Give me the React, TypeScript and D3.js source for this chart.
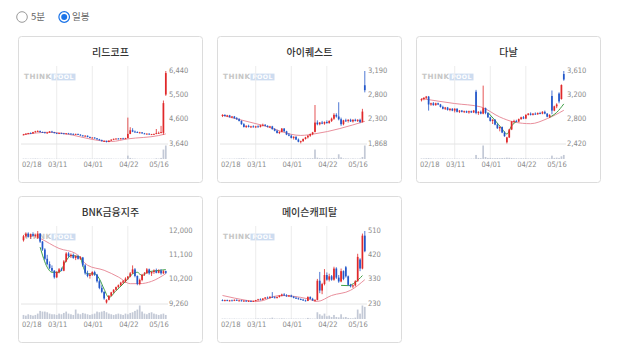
import React from "react";
import * as d3 from "d3";

const DATES = [
  "02/18","02/19","02/20","02/21","02/22","02/25","02/26","02/27","02/28",
  "03/04","03/05","03/06","03/07","03/08","03/11","03/12","03/13","03/14","03/15",
  "03/18","03/19","03/20","03/21","03/22","03/25","03/26","03/27","03/28","03/29",
  "04/01","04/02","04/03","04/04","04/05","04/08","04/09","04/10","04/11","04/12",
  "04/15","04/16","04/17","04/18","04/19","04/22","04/23","04/24","04/25","04/26",
  "04/29","04/30","05/02","05/03","05/07","05/08","05/09","05/10","05/13","05/14",
  "05/15","05/16",
];
const TICKS = ["02/18", "03/11", "04/01", "04/22", "05/16"];

type OHLC = [number, number, number, number];
type Pt = [number, number];

// ---------- 리드코프 ----------
const LEAD_LABELS = ["6,440", "5,500", "4,600", "3,640"];
const LEAD_OHLC: OHLC[] = [
  [3980,4010,3960,3990],[3990,4030,3980,4020],[4020,4050,4000,4040],[4040,4070,4020,4030],[4030,4090,4020,4080],
  [4080,4130,4060,4110],[4110,4150,4090,4120],[4120,4140,4070,4080],[4080,4100,4050,4070],[4070,4090,4040,4050],
  [4050,4080,4030,4060],[4060,4120,4050,4100],[4100,4130,4070,4080],[4080,4090,4030,4040],[4040,4060,4020,4030],
  [4030,4050,4010,4040],[4040,4060,4020,4030],[4030,4050,4010,4020],[4020,4040,4000,4030],[4030,4050,4010,4020],
  [4020,4040,4000,4010],[4010,4030,3990,4000],[4000,4020,3980,4010],[4010,4020,3970,3980],[3980,4000,3940,3950],
  [3950,3970,3920,3930],[3930,3960,3910,3940],[3940,3950,3880,3890],[3890,3910,3850,3860],[3860,3880,3840,3870],
  [3870,3880,3830,3840],[3840,3850,3790,3800],[3800,3820,3760,3770],[3770,3790,3720,3730],[3730,3760,3700,3740],
  [3740,3750,3680,3700],[3700,3760,3690,3750],[3750,3800,3740,3790],[3790,3830,3770,3820],[3820,3840,3800,3830],
  [3830,3850,3810,3820],[3820,3850,3800,3840],[3840,3860,3820,3830],[3830,3860,3810,3850],[3850,4640,3840,4010],
  [4010,4270,4000,4150],[4150,4230,4080,4100],[4100,4140,4060,4080],[4080,4110,4050,4060],[4060,4090,4030,4070],
  [4070,4080,4020,4030],[4030,4050,4000,4010],[4010,4030,3990,4020],[4020,4030,3980,3990],[3990,4010,3970,4000],
  [4000,4020,3980,4010],[4010,4200,4000,4040],[4040,4100,4020,4050],[4050,4320,4030,4080],[4050,5300,3980,5200],
  [5530,6440,5480,6360],
];
const LEAD_VOL = [3,3,2,3,3,4,3,2,2,3, 3,3,2,2,2,2,2,2,2,2, 2,2,2,2,3,3,2,3,3,2, 3,3,3,4,3,3,3,3,2,2, 2,2,2,2,25,8,4,3,2,2, 2,2,2,2,2,2,5,3,8,70,100];
const LEAD_MA_LONG: Pt[] = [[0,3985],[11,4075],[37,3717],[44,3819],[57,3947],[60,4011]];
const LEAD_MA_SHORT: Pt[][] = [];

// ---------- 아이퀘스트 ----------
const IQ_LABELS = ["3,190", "2,800", "2,300", "1,868"];
const IQ_OHLC: OHLC[] = [
  [2370,2400,2350,2390],[2390,2400,2360,2370],[2370,2390,2350,2380],[2380,2390,2340,2350],[2350,2370,2330,2360],
  [2360,2370,2320,2330],[2330,2350,2300,2310],[2310,2330,2270,2280],[2280,2290,2210,2220],[2220,2240,2160,2170],
  [2170,2200,2150,2190],[2190,2210,2160,2170],[2170,2190,2150,2180],[2180,2200,2160,2170],[2170,2190,2150,2180],
  [2180,2200,2160,2170],[2170,2210,2160,2200],[2200,2230,2180,2210],[2210,2220,2180,2190],[2190,2200,2160,2170],
  [2170,2190,2150,2180],[2180,2190,2120,2130],[2130,2150,2090,2100],[2100,2120,2050,2060],[2060,2090,2040,2080],
  [2080,2150,2070,2140],[2140,2150,2080,2090],[2090,2100,2020,2030],[2030,2060,2000,2010],[2010,2030,1960,1970],
  [1970,2000,1940,1990],[1990,2000,1930,1940],[1940,1960,1890,1900],[1900,1920,1870,1910],[1910,1960,1900,1950],
  [1950,1990,1940,1980],[1980,2020,1960,2010],[2010,2050,1990,2040],[2040,2080,2020,2070],[2080,2570,2070,2250],
  [2250,2290,2200,2220],[2220,2260,2200,2250],[2250,2280,2220,2230],[2230,2270,2210,2260],[2260,2290,2230,2240],
  [2240,2290,2230,2280],[2280,2340,2260,2320],[2320,2420,2300,2390],[2390,2420,2340,2360],[2360,2620,2290,2310],
  [2310,2340,2190,2220],[2220,2300,2200,2290],[2290,2320,2260,2280],[2280,2310,2250,2300],[2300,2320,2260,2270],
  [2270,2310,2250,2300],[2300,2320,2270,2280],[2280,2310,2260,2300],[2300,2320,2240,2260],[2260,2500,2250,2450],
  [2930,3190,2800,2840],
];
const IQ_VOL = [3,2,2,3,2,3,3,4,5,5, 3,3,2,2,2,2,3,3,2,2, 3,3,4,4,3,4,3,4,4,5, 4,4,5,4,4,4,5,5,6,70, 10,6,5,4,5,5,6,8,5,35, 12,5,4,4,3,4,3,3,4,15,100];
const IQ_MA_LONG: Pt[] = [[0,2382],[17,2198],[33,2015],[39,2045],[60,2272]];
const IQ_MA_SHORT: Pt[][] = [];

// ---------- 다날 ----------
const DANAL_LABELS = ["3,610", "3,200", "2,800", "2,420"];
const DANAL_OHLC: OHLC[] = [
  [3130,3160,3110,3150],[3150,3180,3130,3170],[3170,3200,3150,3190],[3190,3200,2960,3060],[3060,3090,3040,3080],
  [3080,3100,3040,3050],[3050,3090,3040,3080],[3080,3090,3050,3060],[3060,3070,3010,3020],[3020,3040,2980,2990],
  [2990,3020,2970,3010],[3010,3020,2960,2970],[2970,3000,2950,2990],[2990,3000,2950,2960],[2960,3000,2930,2990],
  [2990,3000,2930,2940],[2940,2970,2920,2960],[2960,2970,2930,2940],[2940,2960,2920,2950],[2950,2960,2920,2930],
  [2930,2960,2910,2950],[2950,2960,2920,2930],[2930,2970,2920,2960],[3270,3300,2900,2920],[2920,2950,2890,2940],
  [2940,2960,2900,2910],[2910,3370,2900,3000],[3000,3010,2900,2920],[2920,2930,2840,2850],[2850,2860,2780,2790],
  [2790,2820,2740,2810],[2810,2820,2720,2730],[2730,2750,2660,2670],[2670,2700,2620,2690],[2690,2700,2590,2600],
  [2600,2620,2530,2540],[2440,2530,2420,2520],[2520,2660,2510,2650],[2650,2790,2640,2780],[2780,2810,2760,2790],
  [2790,2810,2770,2780],[2780,2830,2770,2820],[2820,2860,2810,2850],[2850,2870,2820,2830],[2830,2900,2820,2890],
  [2890,2920,2880,2910],[2910,2930,2880,2890],[2890,2920,2880,2910],[2910,2930,2890,2900],[2900,2930,2890,2920],
  [2920,2940,2900,2910],[2910,2950,2900,2940],[2940,2960,2900,2910],[2910,2920,2850,2860],[2860,2900,2840,2890],
  [3200,3290,2900,2960],[2960,3040,2950,3030],[3030,3080,3000,3060],[3240,3260,3080,3110],[3150,3390,3140,3380],
  [3560,3610,3450,3470],
];
const DANAL_VOL = [4,4,5,6,4,3,3,3,4,4, 3,3,3,3,3,3,3,2,2,2, 2,3,3,30,8,6,100,15,8,8, 6,6,7,6,7,8,10,9,7,5, 5,4,5,5,5,4,4,4,4,4, 4,4,4,5,5,25,8,10,8,20,30];
const DANAL_MA_LONG: Pt[] = [[0,3158],[14,3076],[25,3021],[33,2855],[39,2773],[46,2745],[53,2828],[60,2965]];
const DANAL_MA_SHORT: Pt[][] = [
  [[28,2930],[31,2800],[34,2660],[36,2575],[38,2710],[40,2780]],
  [[54,2850],[57,2930],[60,3070]],
];

// ---------- BNK금융지주 ----------
const BNK_LABELS = ["12,000", "11,100", "10,200", "9,260"];
const BNK_OHLC: OHLC[] = [
  [11650,11850,11600,11800],[11800,11950,11750,11900],[11900,11950,11750,11780],[11780,11900,11700,11880],[11880,11950,11800,11820],
  [11820,11900,11750,11850],[11750,12000,11700,11900],[11900,11920,11550,11600],[11600,11620,11250,11300],[11300,11350,10900,10950],
  [10950,11100,10700,10750],[10750,10850,10550,10600],[10600,10700,10450,10500],[10500,10520,10200,10250],[10250,10480,10220,10450],
  [10450,10600,10400,10550],[10550,10620,10480,10500],[10500,10900,10480,10850],[10850,11200,10820,11150],[11150,11200,11000,11050],
  [11050,11150,10980,11100],[11100,11150,10950,10980],[10980,11080,10900,11050],[11050,11100,10920,10950],[10950,11050,10900,11000],
  [11000,11020,10650,10700],[10700,10750,10350,10400],[10400,10500,10250,10300],[10300,10400,10200,10350],[10350,10480,10300,10450],
  [10450,10500,10300,10350],[10350,10380,10050,10100],[10100,10150,9800,9850],[9850,9950,9650,9700],[9700,9720,9400,9450],
  [9300,9420,9260,9400],[9400,9580,9380,9550],[9550,9700,9520,9680],[9680,9800,9650,9780],[9780,9900,9750,9880],
  [9880,9980,9850,9950],[9950,10080,9920,10050],[10050,10150,10000,10100],[10100,10250,10050,10200],[10200,10300,10150,10280],
  [10280,10450,10250,10400],[10400,10700,10380,10550],[10550,10600,10250,10300],[10300,10320,9950,10000],[10000,10200,9950,10150],
  [10150,10380,10100,10350],[10350,10450,10300,10400],[10400,10600,10380,10550],[10550,10580,10350,10400],[10400,10480,10300,10450],
  [10450,10550,10380,10500],[10500,10580,10400,10420],[10420,10550,10400,10500],[10500,10560,10350,10400],[10400,10520,10380,10480],
  [10480,10500,10380,10420],
];
const BNK_VOL = [30,25,35,30,25,30,40, 60,55,55,50,40,35, 35,30,40,35,45,55, 40,35,30,70,40,35, 45,40,35,30,35,40, 55,50,55,60,50,40, 35,30,35,40,35,30,40, 35,45,50,60,70,100,55, 40,35,45,50,40,35,30,35,40,30];
const BNK_MA_LONG: Pt[] = [[6,11760],[7,11721],[15,11341],[22,11150],[27,10706],[34,10516],[40,10262],[45,10009],[49,10009],[54,10097],[60,10389]];
const BNK_MA_SHORT: Pt[][] = [
  [[7,11390],[10,10630],[12,10440],[15,10440],[18,10880],[20,11070],[24,11010],[25,10690],[27,10380],[30,10380],
   [32,10190],[34,9800],[36,9490],[39,9740],[42,10000],[44,10190],[46,10380],[48,10440],[50,10310],[52,10440],[56,10500],[60,10540]],
];

// ---------- 메이슨캐피탈 ----------
const MASON_LABELS = ["510", "420", "330", "230"];
const MASON_OHLC: OHLC[] = [
  [243,246,239,241],[241,245,238,243],[243,245,239,240],[240,244,238,242],[242,245,240,241],
  [241,246,239,244],[244,246,240,241],[241,244,238,242],[242,244,238,239],[239,243,237,241],
  [241,243,237,238],[238,242,236,240],[240,242,237,238],[238,241,236,240],[240,244,238,243],
  [243,248,241,246],[246,250,243,244],[244,251,243,249],[249,255,247,253],[253,257,249,251],
  [251,258,249,256],[256,274,252,254],[254,258,250,252],[252,257,249,255],[255,262,253,260],
  [260,268,257,265],[265,270,259,261],[261,266,256,258],[258,263,255,261],[261,264,254,256],
  [256,259,250,252],[252,256,248,250],[250,253,245,247],[247,250,243,245],[245,248,240,242],
  [242,245,238,240],[240,258,239,255],[255,258,246,248],[248,252,240,242],[242,246,237,244],
  [244,325,242,318],[318,352,270,280],[280,310,266,305],[305,363,300,340],[340,350,318,322],
  [322,345,315,335],[335,340,318,322],[322,372,318,365],[365,370,325,330],[330,340,310,315],
  [315,365,312,355],[355,358,320,325],[370,375,330,335],[335,338,298,302],[302,306,292,296],
  [296,303,290,300],[300,320,296,316],[316,422,314,410],[400,405,355,365],[365,500,362,492],
  [492,510,428,432],
];
const MASON_VOL = [3,3,2,3,2,3,2,2,2,2, 2,2,2,2,3,4,3,4,5,4, 5,10,4,3,4,5,4,3,3,3, 3,3,3,3,3,3,8,4,3,3, 50,35,25,40,20,25,15,30,15,12, 35,12,15,8,6,5,10,70,40,100,90];
const MASON_MA_LONG: Pt[] = [[0,261],[5,251],[15,238],[24,261],[36,248],[40,238],[46,261],[54,281],[60,322]];
const MASON_MA_SHORT: Pt[][] = [[[50,300],[53,299],[56,312],[59,338]]];

const RED = "#e0282a";
const BLUE = "#2357c9";
const PINK = "#e98f9c";
const GREEN = "#3fa046";
const VOLC = "#c3c9d6";
const LABEL_FONT = "'Liberation Sans Narrow', 'DejaVu Sans Condensed', 'Arial Narrow', sans-serif";
const KR_FONT = "'Noto Sans CJK KR', 'Noto Sans', sans-serif";

interface PanelProps {
  left: number;
  top: number;
  title: string;
  ohlc: OHLC[];
  vol: number[];
  maLong: Pt[];
  maShort: Pt[][];
  labels: string[];
}

function Panel({ left, top, title, ohlc, vol, maLong, maShort, labels }: PanelProps) {
  const W = 184, H = 146;
  const x = d3.scalePoint<string>().domain(DATES).range([left + 5.5, left + 147.8]);
  const num = (s: string) => +s.replace(/,/g, "");
  const yTop = top + 35, yBot = top + 107.5;
  const y = d3.scaleLinear().domain([num(labels[labels.length - 1]), num(labels[0])]).range([yBot, yTop]);
  const vTop = top + 109.5, vBot = top + 123;
  const v = d3.scaleLinear().domain([0, d3.max(vol) as number]).range([vBot, vTop]);
  const line = d3.line<Pt>().x(p => x(DATES[p[0]]) as number).y(p => y(p[1])).curve(d3.curveMonotoneX);
  const bw = 1.7;
  return (
    <g>
      <rect x={left + 0.5} y={top + 0.5} width={W} height={H} rx={3} fill="#fff" stroke="#dcdcdc" />
      <text x={left + W / 2 + 0.5} y={top + 17} textAnchor="middle" dominantBaseline="middle"
        fontFamily={KR_FONT} fontSize={10} fontWeight={500} fill="#333">{title}</text>
      {/* watermark */}
      <text x={left + 6} y={top + 41.3} dominantBaseline="middle" fontFamily="'DejaVu Sans', sans-serif"
        fontSize={7.2} fontWeight={700} letterSpacing={0.5} fill="#c6c6c6">THINK</text>
      <rect x={left + 33.5} y={top + 37.6} width={24} height={6.8} fill="#cddcf0" />
      <text x={left + 45.5} y={top + 41.3} textAnchor="middle" dominantBaseline="middle" fontFamily="'DejaVu Sans', sans-serif"
        fontSize={6.2} fontWeight={700} letterSpacing={0.4} fill="#fff">POOL</text>
      {/* grid */}
      {TICKS.slice(1, 4).map(t => (
        <line key={t} x1={(x(t) as number)} x2={(x(t) as number)} y1={top + 30} y2={vBot}
          stroke="#ececec" strokeWidth={1} />
      ))}
      <line x1={left + 3} x2={left + 150} y1={yBot + 0.5} y2={yBot + 0.5} stroke="#e4e4e4" />
      {/* volume */}
      {vol.map((d, i) => {
        const cx = x(DATES[i]) as number;
        return <rect key={"v" + i} x={cx - bw / 2} width={bw} y={v(d)} height={vBot - v(d)} fill={VOLC} />;
      })}
      {/* MA lines */}
      <path d={line(maLong) || ""} fill="none" stroke={PINK} strokeWidth={1} />
      {maShort.map((seg, k) => (
        <path key={"g" + k} d={line(seg) || ""} fill="none" stroke={GREEN} strokeWidth={1} />
      ))}
      {/* candles */}
      {ohlc.map((d, i) => {
        const cx = x(DATES[i]) as number;
        const up = d[3] >= d[0];
        const col = up ? RED : BLUE;
        const yo = y(d[0]), yc = y(d[3]);
        return (
          <g key={"c" + i}>
            <line x1={cx} x2={cx} y1={y(d[1])} y2={y(d[2])} stroke={col} strokeWidth={0.8} />
            <rect x={cx - bw / 2} width={bw} y={Math.min(yo, yc)} height={Math.max(0.9, Math.abs(yo - yc))} fill={col} />
          </g>
        );
      })}
      {/* y labels */}
      {labels.map((l, k) => (
        <text key={l} x={left + 151} y={yTop + (k * (yBot - yTop)) / 3} dominantBaseline="middle"
          fontFamily={LABEL_FONT} fontSize={7.5} fill="#8a8a8a">{l}</text>
      ))}
      {/* x labels */}
      {TICKS.map((t, k) => {
        const px = x(t) as number;
        const anchor = k === 0 ? "start" : k === TICKS.length - 1 ? "end" : "middle";
        const tx = k === 0 ? left + 4 : k === TICKS.length - 1 ? left + 150.7 : px + 1;
        return (
          <text key={t} x={tx} y={top + 129} textAnchor={anchor} dominantBaseline="middle"
            fontFamily={LABEL_FONT} fontSize={7.5} fill="#8a8a8a">{t}</text>
        );
      })}
    </g>
  );
}

export default function App() {
  return (
    <svg width={618} height={355} style={{ position: "absolute", left: 0, top: 0, background: "#fff" }}>
      <rect x={0} y={0} width={618} height={355} fill="#fff" />
      {/* radio buttons */}
      <circle cx={22} cy={17} r={5.3} fill="#fff" stroke="#9a9a9a" strokeWidth={1} />
      <text x={31} y={17.5} dominantBaseline="middle" fontFamily={KR_FONT} fontSize={9.5} fill="#666">5분</text>
      <circle cx={64.2} cy={17} r={5.3} fill="#fff" stroke="#1a73e8" strokeWidth={1.2} />
      <circle cx={64.2} cy={17} r={3} fill="#1a73e8" />
      <text x={72} y={17.5} dominantBaseline="middle" fontFamily={KR_FONT} fontSize={9.5} fill="#666">일봉</text>

      <Panel left={18} top={36} title="리드코프" ohlc={LEAD_OHLC} vol={LEAD_VOL} maLong={LEAD_MA_LONG} maShort={LEAD_MA_SHORT} labels={LEAD_LABELS} />
      <Panel left={217} top={36} title="아이퀘스트" ohlc={IQ_OHLC} vol={IQ_VOL} maLong={IQ_MA_LONG} maShort={IQ_MA_SHORT} labels={IQ_LABELS} />
      <Panel left={416} top={36} title="다날" ohlc={DANAL_OHLC} vol={DANAL_VOL} maLong={DANAL_MA_LONG} maShort={DANAL_MA_SHORT} labels={DANAL_LABELS} />
      <Panel left={18} top={196} title="BNK금융지주" ohlc={BNK_OHLC} vol={BNK_VOL} maLong={BNK_MA_LONG} maShort={BNK_MA_SHORT} labels={BNK_LABELS} />
      <Panel left={217} top={196} title="메이슨캐피탈" ohlc={MASON_OHLC} vol={MASON_VOL} maLong={MASON_MA_LONG} maShort={MASON_MA_SHORT} labels={MASON_LABELS} />
    </svg>
  );
}
